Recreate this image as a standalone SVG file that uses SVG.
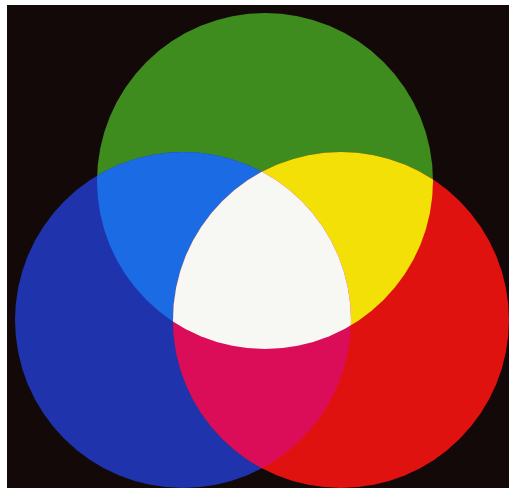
<svg xmlns="http://www.w3.org/2000/svg" width="509" height="492" viewBox="0 0 509 492">
  <defs>
    <clipPath id="clipG"><circle cx="265" cy="181" r="168"/></clipPath>
    <clipPath id="clipB"><circle cx="183" cy="320" r="168"/></clipPath>
    <clipPath id="clipR"><circle cx="341" cy="320" r="168"/></clipPath>
  </defs>
  <style>
    .g{fill:#3e8c1e}.b{fill:#1f33ac}.r{fill:#e0120f}
    .c{fill:#1b6be4}.y{fill:#f2e006}.m{fill:#dc0d58}.w{fill:#f7f7f4}
  </style>
  <rect x="0" y="0" width="509" height="492" fill="#ffffff"/>
  <rect x="7" y="5" width="502" height="483" fill="#130909"/>
  <g id="green"><circle class="g" cx="265" cy="181" r="168"/></g>
  <g id="blue"><circle class="b" cx="183" cy="320" r="168"/></g>
  <g id="red"><circle class="r" cx="341" cy="320" r="168"/></g>
  <g id="cyan" clip-path="url(#clipG)"><circle class="c" cx="183" cy="320" r="168"/></g>
  <g id="yellow" clip-path="url(#clipG)"><circle class="y" cx="341" cy="320" r="168"/></g>
  <g id="magenta" clip-path="url(#clipB)"><circle class="m" cx="341" cy="320" r="168"/></g>
  <g id="white" clip-path="url(#clipG)"><g clip-path="url(#clipB)"><circle class="w" cx="341" cy="320" r="168"/></g></g>
</svg>
